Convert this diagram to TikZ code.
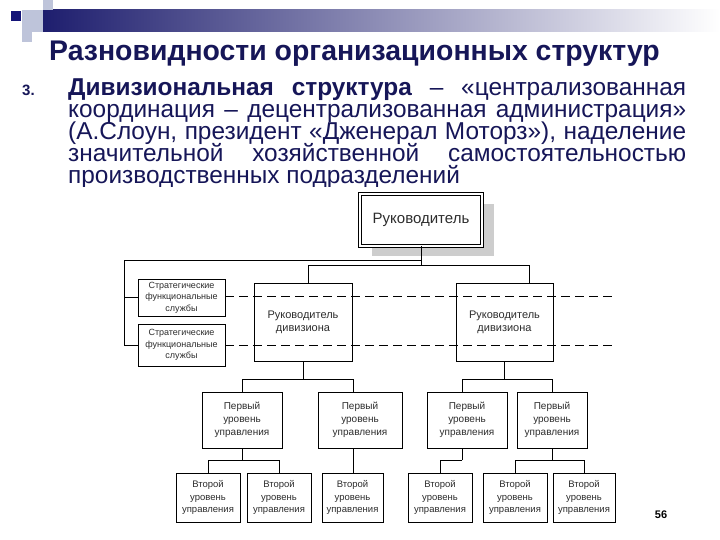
\documentclass[tikz,border=0pt]{standalone}
\usepackage{fontspec}
\setmainfont{Liberation Sans}
\usetikzlibrary{calc,shadows}
\definecolor{navy}{RGB}{22,22,88}
\definecolor{barnavy}{RGB}{30,30,110}
\definecolor{sqlight}{RGB}{190,196,218}
\definecolor{sqdark}{RGB}{20,20,120}
\definecolor{shadowgrey}{RGB}{205,205,205}
\definecolor{boxtext}{RGB}{45,45,45}
\begin{document}
\begin{tikzpicture}[x=1pt,y=-1pt,
  box/.style={draw=black, line width=0.8pt, fill=white, inner sep=0pt, text=boxtext, align=center},
  stratbox/.style={box, font=\fontsize{9}{11.5}\selectfont},
  divbox/.style={box, font=\fontsize{11}{13}\selectfont},
  firstbox/.style={box, font=\fontsize{10}{13}\selectfont},
  secbox/.style={box, font=\fontsize{9.5}{12.5}\selectfont},
  conn/.style={draw=black, line width=0.8pt},
  dline/.style={draw=black, line width=0.8pt, dash pattern=on 9pt off 5pt},
  bodyline/.style={anchor=base west, inner sep=0pt, text=navy, font=\fontsize{24.4}{26}\selectfont}
]
\useasboundingbox[fill=white] (0,0) rectangle (720,540);

% decorative header
\shade[left color=barnavy, right color=white] (43,10) rectangle (720,32);
\fill[sqlight] (22,10) rectangle (43,32);
\fill[sqlight] (22,32) rectangle (32,42);
\fill[sqlight] (43,0) rectangle (53,10);
\fill[sqdark] (11,11) rectangle (21,21);

% title
\node[anchor=base, inner sep=0pt, text=navy, font=\fontsize{28.4}{30}\selectfont\bfseries] (title) at (354.5,61) {Разновидности организационных структур};

% body text
\node[anchor=base west, inner sep=0pt, text=navy, font=\fontsize{15}{18}\selectfont\bfseries] (num) at (22,96) {3.};
\node[bodyline] (l1) at (68,96) {\makebox[618pt][s]{\textbf{Дивизиональная структура} – «централизованная}};
\node[bodyline] (l2) at (68,118) {\makebox[618pt][s]{координация – децентрализованная администрация»}};
\node[bodyline] (l3) at (68,140) {\makebox[618pt][s]{(А.Слоун, президент «Дженерал Моторз»), наделение}};
\node[bodyline] (l4) at (68,162) {\makebox[618pt][s]{значительной хозяйственной самостоятельностью}};
\node[bodyline] (l5) at (68,184) {производственных подразделений};

% diagram area (covers descenders of last line)
\fill[white] (60,187) rectangle (640,540);

% head
\node[draw=black, line width=0.7pt, double=white, double distance=1.8pt, fill=white,
      minimum width=122pt, minimum height=52pt, inner sep=0pt,
      font=\fontsize{15}{18}\selectfont, text=boxtext,
      drop shadow={shadow xshift=12pt, shadow yshift=-10pt, opacity=1, fill=shadowgrey}] (boss) at (421,220) {Руководитель};

% strategic services
\node[stratbox, minimum width=87pt, minimum height=37pt] (s1) at (181.5,297.5) {Стратегические\\функциональные\\службы};
\node[stratbox, minimum width=87pt, minimum height=42pt] (s2) at (181.5,345) {Стратегические\\функциональные\\службы};

% division heads
\node[divbox, minimum width=98pt, minimum height=78pt] (dl) at (303,322) {Руководитель\\дивизиона};
\node[divbox, minimum width=97pt, minimum height=78pt] (dr) at (504.5,322) {Руководитель\\дивизиона};

% first level
\node[firstbox, minimum width=80pt, minimum height=56pt] (f1) at (242,420) {Первый\\уровень\\управления};
\node[firstbox, minimum width=84pt, minimum height=56pt] (f2) at (360,420) {Первый\\уровень\\управления};
\node[firstbox, minimum width=80pt, minimum height=56pt] (f3) at (467,420) {Первый\\уровень\\управления};
\node[firstbox, minimum width=70pt, minimum height=56pt] (f4) at (552,420) {Первый\\уровень\\управления};

% second level
\node[secbox, minimum width=64pt, minimum height=49pt] (g1) at (208,497.5) {Второй\\уровень\\управления};
\node[secbox, minimum width=64pt, minimum height=49pt] (g2) at (279,497.5) {Второй\\уровень\\управления};
\node[secbox, minimum width=61pt, minimum height=49pt] (g3) at (352.5,497.5) {Второй\\уровень\\управления};
\node[secbox, minimum width=64pt, minimum height=49pt] (g4) at (440,497.5) {Второй\\уровень\\управления};
\node[secbox, minimum width=64pt, minimum height=49pt] (g5) at (515,497.5) {Второй\\уровень\\управления};
\node[secbox, minimum width=62pt, minimum height=49pt] (g6) at (584,497.5) {Второй\\уровень\\управления};

% page number
\node[inner sep=0pt, font=\fontsize{11}{13}\selectfont\bfseries] (pg) at (661,515) {56};

% connectors: head
\coordinate (ltop) at (124,260);
\coordinate (lbot) at (124,345);
\coordinate (bl) at (308,265);
\coordinate (br) at (529,265);
\draw[conn] (boss.south) -- (boss.south |- bl);
\draw[conn] (ltop) -- (ltop -| boss.south);
\draw[conn] (bl) -- (br);
\draw[conn] (bl) -- (bl |- dl.north);
\draw[conn] (br) -- (br |- dr.north);
\draw[conn] (ltop) -- (lbot);
\draw[conn] (ltop |- s1.west) -- (s1.west);
\draw[conn] (lbot) -- (lbot -| s2.west);

% dashed lines
\coordinate (dend1) at (612,296);
\coordinate (dend2) at (612,345);
\draw[dline] (s1.east |- dend1) -- (dend1);
\draw[dline] (s2.east |- dend2) -- (dend2);

% division -> first level
\coordinate (fl) at (242,379);
\coordinate (fr) at (353,379);
\coordinate (fl2) at (462,379);
\coordinate (fr2) at (552,379);
\draw[conn] (dl.south) -- (dl.south |- fl);
\draw[conn] (fl) -- (fr);
\draw[conn] (fl) -- (fl |- f1.north);
\draw[conn] (fr) -- (fr |- f2.north);
\draw[conn] (dr.south) -- (dr.south |- fl2);
\draw[conn] (fl2) -- (fr2);
\draw[conn] (fl2) -- (fl2 |- f3.north);
\draw[conn] (fr2) -- (fr2 |- f4.north);

% first -> second level
\coordinate (k1) at (242,460);
\coordinate (k3) at (462,460);
\coordinate (k4) at (552,460);
\draw[conn] (fl |- f1.south) -- (k1);
\draw[conn] (g1.north |- k1) -- (g2.north |- k1);
\draw[conn] (g1.north |- k1) -- (g1.north);
\draw[conn] (g2.north |- k1) -- (g2.north);
\draw[conn] (fr |- f2.south) -- (fr |- g3.north);
\draw[conn] (fl2 |- f3.south) -- (k3);
\draw[conn] (k3) -- (g4.north |- k3) -- (g4.north);
\draw[conn] (fr2 |- f4.south) -- (k4);
\draw[conn] (g5.north |- k4) -- (g6.north |- k4);
\draw[conn] (g5.north |- k4) -- (g5.north);
\draw[conn] (g6.north |- k4) -- (g6.north);
\end{tikzpicture}
\end{document}
